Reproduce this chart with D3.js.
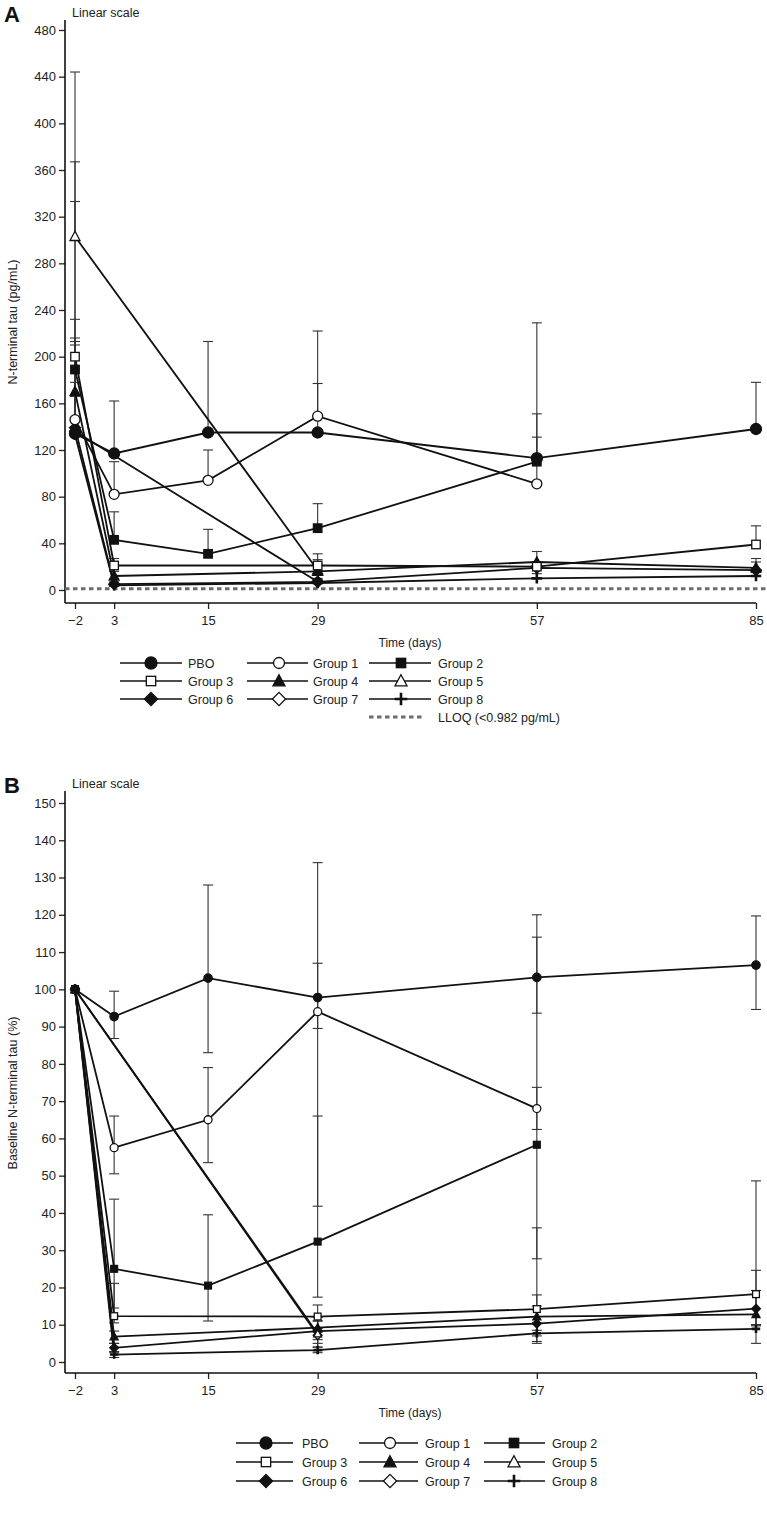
<!DOCTYPE html>
<html><head><meta charset="utf-8">
<script src="https://cdn.jsdelivr.net/npm/d3@7"></script>
<style>
body{margin:0;background:#fff;}
svg{font-family:"Liberation Sans",Arial,Helvetica,sans-serif;}
</style></head>
<body>
<svg id="c" width="767" height="1515"></svg>
<script>
// ---------- DATA ----------
const days = [-2, 3, 15, 29, 57, 85];
const groups = ["PBO","Group 1","Group 2","Group 3","Group 4","Group 5","Group 6","Group 7","Group 8"];
const markers = ["circleF","circleO","squareF","squareO","triF","triO","diaF","diaO","plus"];
const yTicksA = [0,40,80,120,160,200,240,280,320,360,400,440,480];
const yTicksB = [0,10,20,30,40,50,60,70,80,90,100,110,120,130,140,150];

// Panel A: N-terminal tau (pg/mL), mean and upper error bar
const aPBO = [134, 117, 135, 135, 113, 138];
const aG1  = [146, 82, 94, 149, 91, null];
const aG2  = [189, 43, 31, 53, 110, null];
const aG3  = [200, 21, null, 21, 20, 39];
const aG4  = [170, 12, null, 16, 24, 19];
const aG5  = [303, null, null, 17, null, null];
const aG6  = [139, 5, null, 7, 19, 17];
const aG7  = [136, null, null, 7, null, null];
const aG8  = [133, 4, null, 6, 10, 12];
const aHiPBO = [213, 162, 213, 177, 131, 178];
const aHiG1  = [216, 110, 120, 222, 229, null];
const aHiG2  = [367, 67, 52, 74, 151, null];
const aHiG3  = [333, 27, null, 31, 24, 55];
const aHiG4  = [232, 16, null, 22, 33, 27];
const aHiG5  = [444, null, null, 26, null, null];
const aHiG6  = [210, 7, null, 10, 23, 24];
const aHiG7  = [178, null, null, 9, null, null];
const aHiG8  = [166, 6, null, 8, 14, 15];
const lloq = 0.982;

// Panel B: % of baseline, mean, lower and upper error bar
const bPBO = [100, 92.7, 103, 97.8, 103.2, 106.5];
const bG1  = [100, 57.5, 65, 94, 68, null];
const bG2  = [100, 25, 20.5, 32.3, 58.3, null];
const bG3  = [100, 12.3, null, 12.2, 14.2, 18.2];
const bG4  = [100, 6.8, null, 9.2, 12.2, 12.8];
const bG5  = [100, null, null, 7.6, null, null];
const bG6  = [100, 3.8, null, 8.3, 10.3, 14.3];
const bG7  = [100, null, null, 7.2, null, null];
const bG8  = [100, 2, null, 3.2, 7.7, 8.9];
const bLoPBO = [100, 86.8, 83, 89.5, 93.6, 94.6];
const bHiPBO = [100, 99.5, 128, 107, 120, 119.7];
const bLoG1  = [100, 50.5, 53.5, 41.8, 62.4, null];
const bHiG1  = [100, 66, 79, 134, 114, null];
const bLoG2  = [100, 14.5, 11, 17.4, 27.7, null];
const bHiG2  = [100, 43.7, 39.5, 66, 73.7, null];
const bLoG3  = [100, 10.5, null, 8, 8.5, 9.7];
const bHiG3  = [100, 21.1, null, 15.3, 36, 48.6];
const bLoG4  = [100, 5, null, 6, 7, 10];
const bHiG4  = [100, 8.3, null, 12, 18, 24.6];
const bLoG5  = [100, null, null, 4, null, null];
const bHiG5  = [100, null, null, 11, null, null];
const bLoG6  = [100, 2.5, null, 5, 5.5, 10];
const bHiG6  = [100, 5, null, 11, 15, 19.2];
const bLoG7  = [100, null, null, 3, null, null];
const bHiG7  = [100, null, null, 9, null, null];
const bLoG8  = [100, 1.2, null, 2.5, 5, 5];
const bHiG8  = [100, 2.8, null, 4, 10.5, 10];

const seriesA = [aPBO,aG1,aG2,aG3,aG4,aG5,aG6,aG7,aG8];
const hiA = [aHiPBO,aHiG1,aHiG2,aHiG3,aHiG4,aHiG5,aHiG6,aHiG7,aHiG8];
const seriesB = [bPBO,bG1,bG2,bG3,bG4,bG5,bG6,bG7,bG8];
const loB = [bLoPBO,bLoG1,bLoG2,bLoG3,bLoG4,bLoG5,bLoG6,bLoG7,bLoG8];
const hiB = [bHiPBO,bHiG1,bHiG2,bHiG3,bHiG4,bHiG5,bHiG6,bHiG7,bHiG8];

// ---------- DRAW ----------
const svg = d3.select("#c");
const X0 = 65;
const TXT = "#222";

function marker(g, type, x, y, s) {
  const filled = type.endsWith("F");
  const fill = filled ? "#111" : "#fff";
  const sw = 1.3;
  let el;
  if (type.startsWith("circle")) {
    el = g.append("circle").attr("cx", x).attr("cy", y).attr("r", s);
  } else if (type.startsWith("square")) {
    const h = s * 0.85;
    el = g.append("rect").attr("x", x - h).attr("y", y - h).attr("width", 2 * h).attr("height", 2 * h);
  } else if (type.startsWith("tri")) {
    const h = s * 1.0;
    el = g.append("path").attr("d", `M${x},${y - h * 1.05}L${x + h},${y + h * 0.8}L${x - h},${y + h * 0.8}Z`);
  } else if (type.startsWith("dia")) {
    const h = s * 1.1;
    el = g.append("path").attr("d", `M${x},${y - h}L${x + h},${y}L${x},${y + h}L${x - h},${y}Z`);
  } else {
    const h = s * 1.05;
    g.append("path").attr("d", `M${x - h},${y}L${x + h},${y}M${x},${y - h}L${x},${y + h}`)
      .attr("stroke", "#111").attr("stroke-width", 2.6).attr("fill", "none");
    return;
  }
  el.attr("fill", fill).attr("stroke", "#111").attr("stroke-width", sw);
}

function panel(opt) {
  const g = svg.append("g");
  const x = d3.scaleLinear().domain([-2, 85]).range([75, 756]);
  const y = d3.scaleLinear().domain(opt.ydom).range(opt.yrange);

  g.append("text").attr("x", 4).attr("y", opt.top + 3).attr("font-size", 22).attr("font-weight", "bold").attr("fill", "#111").text(opt.letter);
  g.append("text").attr("x", 72).attr("y", opt.top - 2).attr("font-size", 12.5).attr("fill", TXT).text("Linear scale");

  const ya = d3.axisLeft(y).tickValues(opt.yticks).tickSize(6).tickSizeOuter(0);
  const yg = g.append("g").attr("transform", `translate(${X0},0)`).call(ya);
  yg.select(".domain").remove();
  yg.selectAll("text").attr("font-size", 13).attr("fill", TXT).attr("font-family", "Liberation Sans, Arial, sans-serif");
  yg.selectAll("line").attr("stroke", "#222").attr("stroke-width", 1.3);
  g.append("line").attr("x1", X0).attr("x2", X0).attr("y1", opt.top + 1).attr("y2", opt.axisY).attr("stroke", "#111").attr("stroke-width", 1.6);

  const xa = d3.axisBottom(x).tickValues(days).tickSize(6).tickSizeOuter(0);
  const xg = g.append("g").attr("transform", `translate(0,${opt.axisY})`).call(xa);
  xg.select(".domain").remove();
  xg.selectAll("text").attr("font-size", 13).attr("fill", TXT).attr("dy", "1em").attr("font-family", "Liberation Sans, Arial, sans-serif");
  xg.selectAll("line").attr("stroke", "#222").attr("stroke-width", 1.3);
  g.append("line").attr("x1", X0).attr("x2", 756).attr("y1", opt.axisY).attr("y2", opt.axisY).attr("stroke", "#111").attr("stroke-width", 1.6);

  g.append("text").attr("x", 410).attr("y", opt.axisY + 44).attr("text-anchor", "middle").attr("font-size", 12).attr("fill", TXT).text("Time (days)");
  g.append("text").attr("transform", `translate(17,${opt.ylabY}) rotate(-90)`).attr("text-anchor", "middle").attr("font-size", 12.5).attr("fill", TXT).text(opt.ylabel);

  if (opt.lloq != null) {
    g.append("line").attr("x1", X0).attr("x2", 767).attr("y1", y(opt.lloq)).attr("y2", y(opt.lloq))
      .attr("stroke", "#6b6b6b").attr("stroke-width", 3).attr("stroke-dasharray", "4.5,3.5");
  }

  const eb = g.append("g").attr("stroke", "#333").attr("stroke-width", 1.1);
  opt.series.forEach((s, i) => {
    s.forEach((v, j) => {
      if (v == null) return;
      const hi = opt.hi[i][j];
      const lo = opt.lo ? opt.lo[i][j] : v;
      if (hi == null || (hi === v && lo === v)) return;
      const xx = x(days[j]);
      eb.append("line").attr("x1", xx).attr("x2", xx).attr("y1", y(lo)).attr("y2", y(hi));
      eb.append("line").attr("x1", xx - 5).attr("x2", xx + 5).attr("y1", y(hi)).attr("y2", y(hi));
      if (opt.lo && lo !== v) eb.append("line").attr("x1", xx - 5).attr("x2", xx + 5).attr("y1", y(lo)).attr("y2", y(lo));
    });
  });

  const line = d3.line().x(d => x(d[0])).y(d => y(d[1]));
  opt.series.forEach(s => {
    const pts = days.map((d, j) => [d, s[j]]).filter(p => p[1] != null);
    g.append("path").attr("d", line(pts)).attr("fill", "none").attr("stroke", "#111").attr("stroke-width", 1.8);
  });

  const mg = g.append("g");
  for (let i = opt.series.length - 1; i >= 0; i--) {
    opt.series[i].forEach((v, j) => {
      if (v == null) return;
      marker(mg, markers[i], x(days[j]), y(v), opt.msize[i]);
    });
  }

  const lg = g.append("g");
  opt.leg.rows.forEach((ry, r) => {
    for (let c = 0; c < 3; c++) {
      const i = r * 3 + c;
      const col = opt.leg.cols[c];
      lg.append("line").attr("x1", col[0]).attr("x2", col[2]).attr("y1", ry).attr("y2", ry).attr("stroke", "#111").attr("stroke-width", 1.5);
      marker(lg, markers[i], col[1], ry, opt.leg.ms[i]);
      lg.append("text").attr("x", col[3]).attr("y", ry + 4.5).attr("font-size", 12.5).attr("fill", TXT).text(groups[i]);
    }
  });
  if (opt.lloq != null) {
    const ry = opt.leg.rows[2] + 18;
    const col = opt.leg.cols[2];
    lg.append("line").attr("x1", col[0]).attr("x2", col[2] - 7).attr("y1", ry).attr("y2", ry)
      .attr("stroke", "#6b6b6b").attr("stroke-width", 3).attr("stroke-dasharray", "4.5,3.5");
    lg.append("text").attr("x", col[3]).attr("y", ry + 4.5).attr("font-size", 12.5).attr("fill", TXT).text("LLOQ (<0.982 pg/mL)");
  }
}

panel({
  letter: "A", top: 19, axisY: 603,
  ydom: [0, 480], yrange: [590, 30], yticks: yTicksA,
  ylabel: "N-terminal tau (pg/mL)", ylabY: 322,
  series: seriesA, hi: hiA, lo: null, lloq: lloq,
  msize: [5.5, 5, 5, 5, 5, 5, 5, 5, 5],
  leg: { rows: [663, 681, 699],
         cols: [[120, 151, 182, 188], [247, 279, 308, 313], [369, 401, 431, 438]],
         ms: [6, 5.5, 5.5, 5.5, 6, 6, 6, 6, 6] }
});

panel({
  letter: "B", top: 790, axisY: 1373,
  ydom: [0, 150], yrange: [1362, 803], yticks: yTicksB,
  ylabel: "Baseline N-terminal tau (%)", ylabY: 1093,
  series: seriesB, hi: hiB, lo: loB, lloq: null,
  msize: [4.2, 4, 4, 4, 4, 4, 4, 4, 4],
  leg: { rows: [1443, 1462, 1481],
         cols: [[236, 266, 293, 302], [359, 390, 418, 425], [484, 514, 545, 552]],
         ms: [6, 5.5, 5.5, 5.5, 6, 6, 6, 6, 6] }
});
</script>
</body></html>
